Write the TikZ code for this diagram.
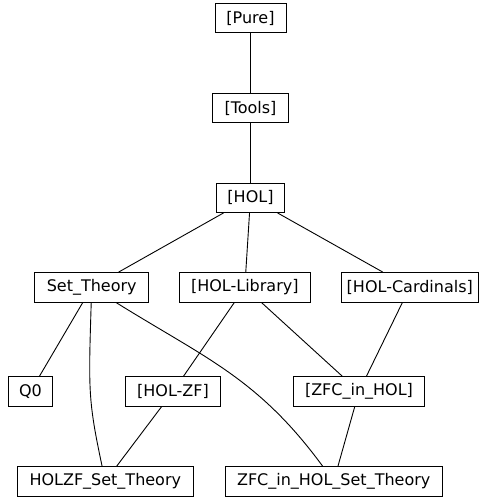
\documentclass[tikz,border=0pt]{standalone}
\usepackage{fontspec}
\setmainfont{DejaVu Sans}
\begin{document}
\begin{tikzpicture}[x=1pt,y=-1pt,
  box/.style={draw,line width=0.9pt,inner sep=0pt,minimum height=29.5pt,font=\fontsize{16}{19}\selectfont},
  edge/.style={line width=0.9pt}]
\useasboundingbox (0,0) rectangle (483,497);
\node[box,minimum width=71pt] (pure) at (250.5,18) {[Pure]};
\node[box,minimum width=76.7pt] (tools) at (250.5,108) {[Tools]};
\node[box,minimum width=68pt] (hol) at (250.5,197.7) {[HOL]};
\node[box,minimum width=114pt] (st) at (91.7,287.3) {Set\_Theory};
\node[box,minimum width=130.3pt] (hl) at (244.8,287.3) {[HOL-Library]};
\node[box,minimum width=136.3pt] (hc) at (409.8,287.3) {[HOL-Cardinals]};
\node[box,minimum width=43.6pt] (q0) at (30.5,391.5) {Q0};
\node[box,minimum width=94.6pt] (hz) at (173,391.5) {[HOL-ZF]};
\node[box,minimum width=130.6pt] (zh) at (359,391.5) {[ZFC\_in\_HOL]};
\node[box,minimum width=175.3pt] (holzf) at (105.3,481.3) {HOLZF\_Set\_Theory};
\node[box,minimum width=217.3pt] (zs) at (333.7,481.3) {ZFC\_in\_HOL\_Set\_Theory};
\draw[edge] (pure) -- (tools);
\draw[edge] (tools) -- (hol);
\draw[edge] (hol) -- (st);
\draw[edge] (hol) -- (hl);
\draw[edge] (hol) -- (hc);
\draw[edge] (st) -- (q0);
\draw[edge] (st) .. controls (88.5,390) and (88,400) .. (holzf);
\draw[edge] (st) .. controls (205,358) and (258,378) .. (zs);
\draw[edge] (hl) -- (hz);
\draw[edge] (hl) -- (zh);
\draw[edge] (hc) -- (zh);
\draw[edge] (hz) -- (holzf);
\draw[edge] (zh) -- (zs);
\end{tikzpicture}
\end{document}
